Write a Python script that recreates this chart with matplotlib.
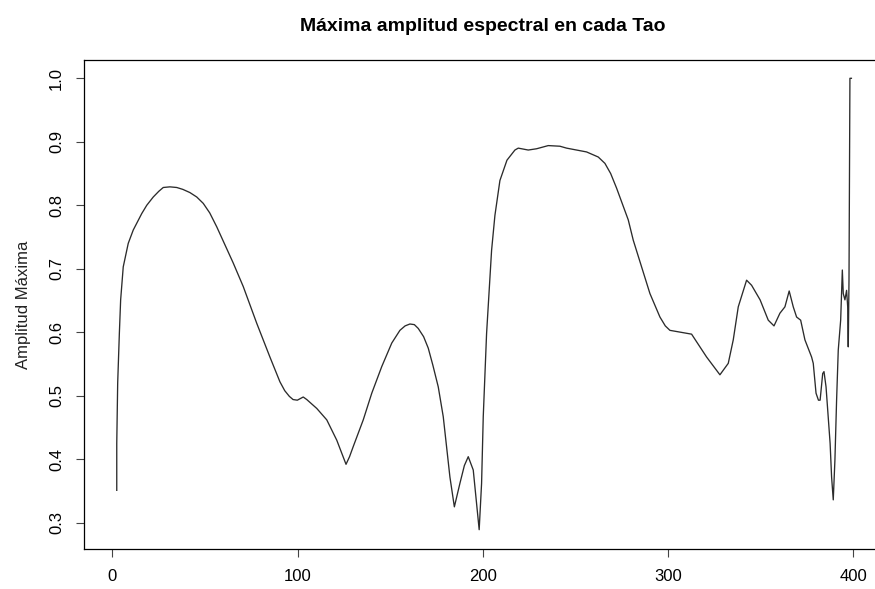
import matplotlib
matplotlib.use("Agg")
import matplotlib.pyplot as plt

plt.rcParams["font.family"] = ["Liberation Sans", "DejaVu Sans"]

# Tao y maxima amplitud espectral (normalizada)
tao = [
    2.3, 2.3, 2.8, 3.7, 4.4, 5.8, 8.5, 11.2, 15.8, 18.5,
    22.0, 25.0, 27.4, 31.0, 34.7, 38.0, 41.8, 45.5, 49.0, 52.5,
    56.3, 65.2, 70.6, 77.9, 85.0, 90.4, 93.0, 95.5, 97.5, 99.8,
    103.0, 104.9, 110.3, 115.7, 121.1, 124.0, 126.1, 128.0, 130.0, 135.4,
    140.0, 145.4, 150.8, 155.2, 158.0, 160.6, 163.0, 165.1, 168.0, 170.5,
    173.0, 175.9, 178.6, 182.2, 184.6, 187.6, 190.0, 192.1, 194.8, 196.6,
    198.0, 199.3, 200.2, 202.0, 204.7, 206.5, 209.2, 213.0, 217.3, 219.1,
    224.5, 229.0, 235.3, 241.6, 245.2, 256.0, 262.3, 265.9, 269.0, 272.2,
    278.5, 281.2, 285.7, 290.2, 295.6, 298.5, 301.0, 312.7, 320.8, 328.0,
    332.5, 335.2, 337.9, 342.4, 345.1, 349.7, 354.1, 357.2, 360.4, 363.1,
    365.4, 367.6, 369.4, 371.6, 373.9, 377.5, 378.4, 379.9, 381.2, 382.1,
    383.5, 384.2, 385.3, 387.5, 388.3, 389.2, 390.1, 391.0, 391.9, 393.2,
    394.1, 394.6, 395.5, 396.4, 397.0, 397.3, 397.7, 398.0, 398.2, 399.0,
]
amplitud = [
    0.351, 0.425, 0.520, 0.598, 0.651, 0.703, 0.740, 0.761, 0.787, 0.800,
    0.813, 0.822, 0.828, 0.829, 0.828, 0.825, 0.820, 0.813, 0.803, 0.788,
    0.766, 0.709, 0.672, 0.614, 0.561, 0.522, 0.508, 0.499, 0.494, 0.493,
    0.498, 0.494, 0.480, 0.462, 0.430, 0.408, 0.392, 0.404, 0.420, 0.462,
    0.504, 0.546, 0.583, 0.603, 0.610, 0.613, 0.612, 0.606, 0.593, 0.575,
    0.548, 0.514, 0.467, 0.372, 0.325, 0.362, 0.390, 0.404, 0.383, 0.331,
    0.289, 0.362, 0.467, 0.598, 0.729, 0.784, 0.839, 0.871, 0.887, 0.890,
    0.887, 0.889, 0.894, 0.893, 0.890, 0.884, 0.876, 0.866, 0.850, 0.827,
    0.777, 0.745, 0.703, 0.661, 0.624, 0.610, 0.603, 0.597, 0.561, 0.533,
    0.551, 0.588, 0.640, 0.682, 0.674, 0.651, 0.619, 0.610, 0.630, 0.640,
    0.665, 0.640, 0.624, 0.619, 0.588, 0.561, 0.551, 0.504, 0.493, 0.493,
    0.535, 0.538, 0.514, 0.425, 0.372, 0.336, 0.399, 0.493, 0.572, 0.619,
    0.698, 0.661, 0.651, 0.666, 0.640, 0.577, 0.682, 0.897, 1.000, 1.000,
]

x_ticks = [0, 100, 200, 300, 400]
y_ticks = [0.3, 0.4, 0.5, 0.6, 0.7, 0.8, 0.9, 1.0]

fig = plt.figure(figsize=(8.75, 5.89), dpi=100)
ax = fig.add_axes([0.0964, 0.0678, 0.9105, 0.830])

ax.plot(tao, amplitud, color="#2b2b2b", linewidth=0.95,
        solid_joinstyle="round")

ax.set_xlim(-15.2, 415.0)
ax.set_ylim(0.2585, 1.0285)
ax.set_xticks(x_ticks)
ax.set_xticklabels([str(t) for t in x_ticks])
ax.set_yticks(y_ticks)
ax.set_yticklabels([f"{t:.1f}" for t in y_ticks], rotation=90, va="center")
ax.tick_params(axis="both", direction="out", length=5.5, width=0.8,
               color="#444444", labelsize=12, pad=9)

for s in ax.spines.values():
    s.set_linewidth(0.9)
    s.set_color("black")

ax.set_title("Máxima amplitud espectral en cada Tao", fontsize=14,
             fontweight="bold", pad=21)
ax.set_ylabel("Amplitud Máxima", fontsize=12, labelpad=13, color="#222222")

fig.savefig("out.png", dpi=100)
